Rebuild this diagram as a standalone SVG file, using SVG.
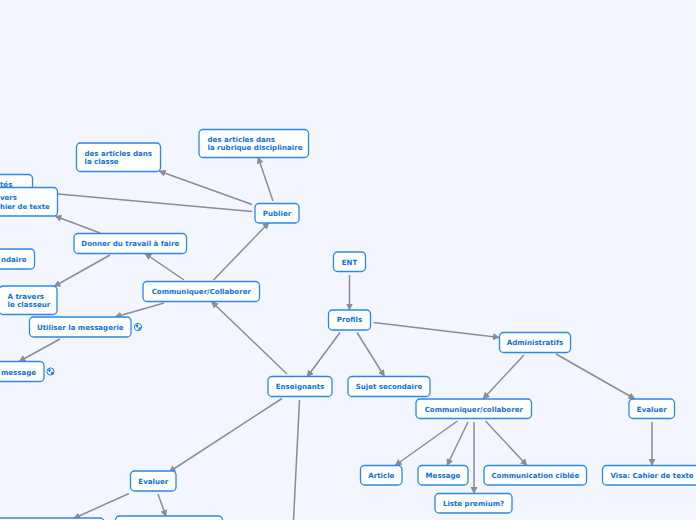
<svg xmlns="http://www.w3.org/2000/svg" width="696" height="520" viewBox="0 0 696 520">
<style>
.n{fill:#fff;stroke:#2a88ea;stroke-width:1.3}
.t{font-family:"DejaVu Sans",sans-serif;font-weight:700;font-size:7.05px;fill:#0f72dc}
.c{fill:none;stroke:#8a8c96;stroke-width:1.5}
.m{text-anchor:middle}
</style>
<defs>
<marker id="a" markerUnits="userSpaceOnUse" markerWidth="10" markerHeight="10" refX="6.500" refY="3.500" orient="auto"><path d="M0 0L7 3.500L0 7Z" fill="#8a8c96"/></marker>
<g id="globe"><circle cx="0" cy="0" r="3.600" fill="#fff" stroke="#1c7fe0" stroke-width="1"/><path d="M-2.500-1.500L-.5-3L.5-1L-1 1ZM.5 .5L3 0L2 3L.5 3Z" fill="#1c7fe0"/></g>
</defs>
<rect width="696" height="520" fill="#f3f6fe"/>
<g id="connectors">
<path class="c" marker-end="url(#a)" d="M349.500 275V310"/>
<path class="c" marker-end="url(#a)" d="M340 332.500L307 377"/>
<path class="c" marker-end="url(#a)" d="M357 332.500L384.500 376.500"/>
<path class="c" marker-end="url(#a)" d="M373.500 322.500L499.500 337.500"/>
<path class="c" marker-end="url(#a)" d="M524 355L483 399"/>
<path class="c" marker-end="url(#a)" d="M556 354L635 399"/>
<path class="c" marker-end="url(#a)" d="M457.500 421L395 465.500"/>
<path class="c" marker-end="url(#a)" d="M468 422L447 465.500"/>
<path class="c" marker-end="url(#a)" d="M474 422V493.500"/>
<path class="c" marker-end="url(#a)" d="M485.500 421L527 465.500"/>
<path class="c" marker-end="url(#a)" d="M652 422V465.500"/>
<path class="c" marker-end="url(#a)" d="M287 374L211.500 301.500"/>
<path class="c" marker-end="url(#a)" d="M282 398.500L169 472"/>
<path class="c" d="M299.500 400L293.500 520"/>
<path class="c" marker-end="url(#a)" d="M129 493.500L73.500 518.500"/>
<path class="c" marker-end="url(#a)" d="M158 494L166 516.500"/>
<path class="c" marker-end="url(#a)" d="M213.500 280L269 222.500"/>
<path class="c" marker-end="url(#a)" d="M184 280L145 253.500"/>
<path class="c" marker-end="url(#a)" d="M164 303L115 317"/>
<path class="c" marker-end="url(#a)" d="M60 339L19 361.500"/>
<path class="c" marker-end="url(#a)" d="M110 255L54 286.500"/>
<path class="c" marker-end="url(#a)" d="M100 233L55 216"/>
<path class="c" marker-end="url(#a)" d="M273 201L258 157"/>
<path class="c" marker-end="url(#a)" d="M252 204.500L159 171"/>
<path class="c" d="M252 211.500L58 194"/>
</g>
<g id="n1"><rect class="n" x="-20" y="174.500" width="52.500" height="28" rx="4"/><text class="t" x="0" y="187">tés</text></g>
<g id="n2"><rect class="n" x="-20" y="187.500" width="77.500" height="28.500" rx="4"/><text class="t" x="0" y="200">vers</text><text class="t" x="49.500" y="209" text-anchor="end" style="font-size:6.8px">hier de texte</text></g>
<g id="n3"><rect class="n" x="199" y="129.500" width="109.500" height="28" rx="4"/><text class="t" x="207.500" y="141.500">des articles dans</text><text class="t" x="207.500" y="150">la rubrique disciplinaire</text></g>
<g id="n4"><rect class="n" x="76.500" y="143" width="84" height="28.500" rx="4"/><text class="t" x="84.500" y="155.500">des articles dans</text><text class="t" x="84.500" y="164">la classe</text></g>
<g id="n5"><rect class="n" x="255" y="203.500" width="44" height="19.500" rx="4"/><text class="t m" x="277" y="216">Publier</text></g>
<g id="n6"><rect class="n" x="74" y="233.500" width="112.500" height="20" rx="4"/><text class="t m" x="130.300" y="246">Donner du travail à faire</text></g>
<g id="n7"><rect class="n" x="-20" y="249" width="54.500" height="20" rx="4"/><text class="t" x="26.500" y="262" text-anchor="end">ndaire</text></g>
<g id="n8"><rect class="n" x="-1" y="286" width="58" height="28.500" rx="4"/><text class="t" x="7.500" y="299">A travers</text><text class="t" x="7.500" y="307">le classeur</text></g>
<g id="n9"><rect class="n" x="143" y="281.500" width="116.500" height="20" rx="4"/><text class="t m" x="201.300" y="294">Communiquer/Collaborer</text></g>
<g id="n10"><rect class="n" x="29.500" y="317" width="101.500" height="20" rx="4"/><text class="t m" x="80.300" y="330">Utiliser la messagerie</text><use href="#globe" x="138" y="327"/></g>
<g id="n11"><rect class="n" x="-20" y="361.500" width="64" height="20" rx="4"/><text class="t" x="36" y="374.500" text-anchor="end">message</text><use href="#globe" x="50.500" y="371.500"/></g>
<g id="n12"><rect class="n" x="333.500" y="252" width="32" height="19.500" rx="4"/><text class="t m" x="349.500" y="264.500">ENT</text></g>
<g id="n13"><rect class="n" x="328.500" y="310" width="42" height="20" rx="4"/><text class="t m" x="349.500" y="322">Profils</text></g>
<g id="n14"><rect class="n" x="499.500" y="332.500" width="71" height="20" rx="4"/><text class="t m" x="535" y="345">Administratifs</text></g>
<g id="n15"><rect class="n" x="268" y="376.500" width="64" height="20" rx="4"/><text class="t m" x="300" y="389">Enseignants</text></g>
<g id="n16"><rect class="n" x="348" y="376.500" width="82" height="20" rx="4"/><text class="t m" x="389" y="389">Sujet secondaire</text></g>
<g id="n17"><rect class="n" x="416" y="399" width="115.500" height="19.500" rx="4"/><text class="t m" x="473.800" y="411.500">Communiquer/collaborer</text></g>
<g id="n18"><rect class="n" x="629" y="399" width="45.500" height="19.500" rx="4"/><text class="t m" x="651.800" y="411.500">Evaluer</text></g>
<g id="n19"><rect class="n" x="360.500" y="465.500" width="41.500" height="19.500" rx="4"/><text class="t m" x="381.300" y="478">Article</text></g>
<g id="n20"><rect class="n" x="418" y="465.500" width="50" height="19.500" rx="4"/><text class="t m" x="443" y="478">Message</text></g>
<g id="n21"><rect class="n" x="484" y="465.500" width="102.500" height="19.500" rx="4"/><text class="t m" x="535.300" y="478">Communication ciblée</text></g>
<g id="n22"><rect class="n" x="602.500" y="465.500" width="100" height="19.500" rx="4"/><text class="t" x="610.500" y="478">Visa: Cahier de texte</text></g>
<g id="n23"><rect class="n" x="435" y="493.500" width="77" height="19.500" rx="4"/><text class="t m" x="473.500" y="506">Liste premium?</text></g>
<g id="n24"><rect class="n" x="130.500" y="471" width="45.500" height="20" rx="4"/><text class="t m" x="153.300" y="484">Evaluer</text></g>
<g id="n25"><rect class="n" x="-20" y="518" width="124" height="20" rx="4"/></g>
<g id="n26"><rect class="n" x="115.500" y="516" width="107" height="20" rx="4"/></g>
</svg>
